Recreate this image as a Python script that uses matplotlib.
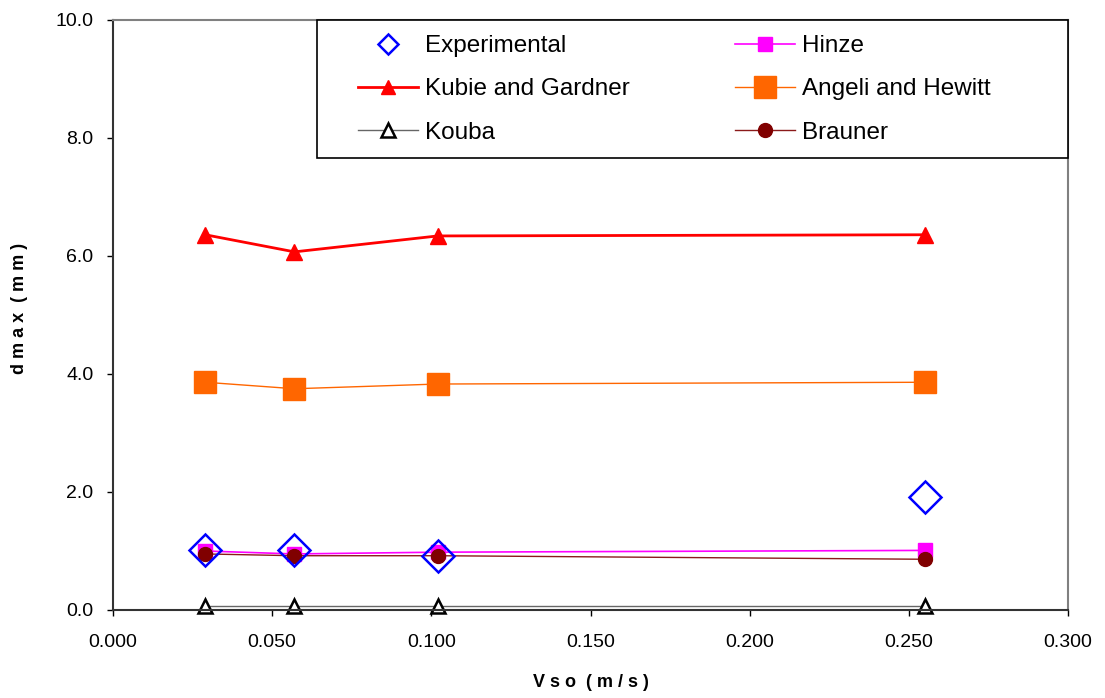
import matplotlib
matplotlib.use("Agg")
import matplotlib.pyplot as plt
from matplotlib.lines import Line2D
from matplotlib.patches import Rectangle

plt.rcParams['font.family'] = ['Liberation Sans', 'DejaVu Sans']

vso = [0.029, 0.057, 0.102, 0.255]
experimental = [1.02, 1.02, 0.92, 1.92]
hinze = [1.00, 0.95, 0.98, 1.01]
kubie = [6.36, 6.07, 6.34, 6.36]
angeli = [3.86, 3.75, 3.83, 3.86]
kouba = [0.07, 0.07, 0.07, 0.07]
brauner = [0.95, 0.92, 0.92, 0.86]

xticks = [0.0, 0.05, 0.10, 0.15, 0.20, 0.25, 0.30]
yticks = [0.0, 2.0, 4.0, 6.0, 8.0, 10.0]

W, H = 1105, 698
fig = plt.figure(figsize=(W/100, H/100), dpi=100)
ax = fig.add_axes([113/W, 1-610/H, (1068-113)/W, (610-20)/H])

styles = {
    'Kouba': dict(color='#666666', lw=1.0, marker='^', mfc='white', mec='black', mew=1.8),
    'Angeli and Hewitt': dict(color='#FF6600', lw=1.0, marker='s', mfc='#FF6600', mec='#FF6600'),
    'Kubie and Gardner': dict(color='#FF0000', lw=2.0, marker='^', mfc='#FF0000', mec='#FF0000'),
    'Hinze': dict(color='#FF00FF', lw=1.2, marker='s', mfc='#FF00FF', mec='#FF00FF'),
    'Brauner': dict(color='#8B1A1A', lw=1.0, marker='o', mfc='#800000', mec='#800000'),
    'Experimental': dict(ls='none', marker='D', mfc='none', mec='#0000FF', mew=1.8),
}
plot_ms = {'Kouba': 10, 'Angeli and Hewitt': 15.5, 'Kubie and Gardner': 11,
           'Hinze': 10, 'Brauner': 10, 'Experimental': 16.5}
leg_ms = {'Kouba': 9.5, 'Angeli and Hewitt': 15.5, 'Kubie and Gardner': 10.5,
          'Hinze': 10.5, 'Brauner': 10, 'Experimental': 10}
series = {'Kouba': kouba, 'Angeli and Hewitt': angeli, 'Kubie and Gardner': kubie,
          'Hinze': hinze, 'Brauner': brauner, 'Experimental': experimental}
zorders = {'Kouba': 2, 'Angeli and Hewitt': 3, 'Kubie and Gardner': 3,
           'Hinze': 4, 'Brauner': 5, 'Experimental': 6}

for name, vals in series.items():
    ax.plot(vso, vals, ms=plot_ms[name], zorder=zorders[name], clip_on=False, **styles[name])

ax.set_xlim(0, 0.3)
ax.set_ylim(0, 10)
ax.set_xticks(xticks)
ax.set_xticklabels([f"{t:.3f}" for t in xticks])
ax.set_yticks(yticks)
ax.set_yticklabels([f"{t:.1f}" for t in yticks])
ax.tick_params(labelsize=14, length=4, direction='out', width=1)
ax.tick_params(axis='x', pad=13)
ax.tick_params(axis='y', pad=10)

for s in ['left', 'bottom']:
    ax.spines[s].set_color('#333333')
    ax.spines[s].set_linewidth(1.5)
for s in ['top', 'right']:
    ax.spines[s].set_color('#808080')
    ax.spines[s].set_linewidth(1.5)

ax.set_xlabel('V s o  ( m / s )', fontsize=13, fontweight='bold', labelpad=16.5)
fig.text(20/W, 1-308/H, 'd m a x  ( m m )', rotation=90, fontsize=13,
         fontweight='bold', ha='center', va='center')

# legend box
box = Rectangle((317/W, 1-158/H), (1068-317)/W, (158-20)/H, transform=fig.transFigure,
                facecolor='white', edgecolor='black', lw=1.2, zorder=10)
fig.add_artist(box)

order = ['Experimental', 'Kubie and Gardner', 'Kouba', 'Hinze', 'Angeli and Hewitt', 'Brauner']
handles = [Line2D([], [], ms=leg_ms[o], **styles[o]) for o in order]
leg = fig.legend(handles, order, ncol=2, loc='upper left',
                 bbox_to_anchor=(358/W, 1-35/H), bbox_transform=fig.transFigure,
                 fontsize=17.5, frameon=False, borderaxespad=0, borderpad=0,
                 handlelength=2.47, handletextpad=0.3, columnspacing=4.3,
                 labelspacing=0.88)
leg.set_zorder(20)

fig.savefig('out.png', dpi=100)
